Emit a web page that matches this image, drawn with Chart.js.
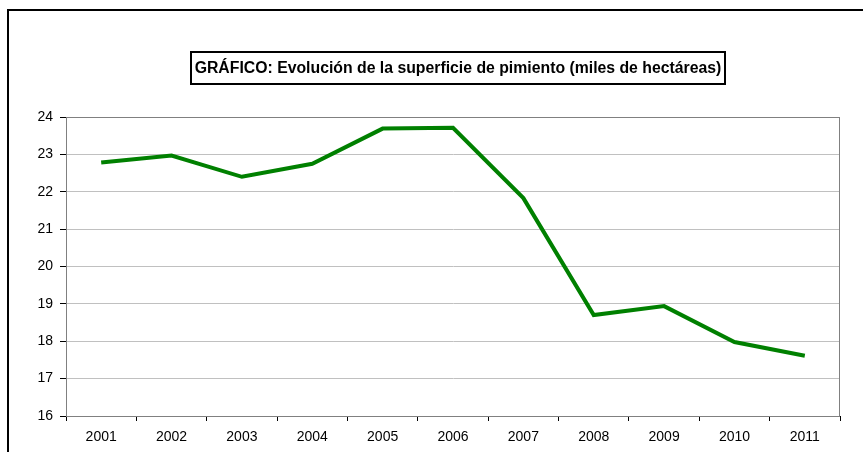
<!DOCTYPE html>
<html>
<head>
<meta charset="utf-8">
<script src="https://cdn.jsdelivr.net/npm/chart.js@4/dist/chart.umd.min.js"></script>
<style>
  html, body { margin: 0; padding: 0; background: #fff; }
  #marco { position: relative; width: 863px; height: 452px; overflow: hidden; }
  #borde { position: absolute; left: 7px; top: 9px; width: 900px; height: 500px;
           border-left: 2px solid #000; border-top: 2px solid #000; }
  #titulo { position: absolute; left: 190px; top: 51px; width: 532px; height: 30px;
            border: 2px solid #000; font: bold 15.8px "Liberation Sans", Arial, sans-serif;
            line-height: 30px; text-align: center; color: #000; white-space: nowrap; }
  canvas { position: absolute; left: 0; top: 0; }
</style>
</head>
<body>
<div id="marco">
  <canvas id="grafico" width="863" height="452"></canvas>
  <div id="borde"></div>
  <div id="titulo">GRÁFICO: Evolución de la superficie de pimiento (miles de hectáreas)</div>
</div>
<script>
// Superficie de pimiento, miles de hectáreas
var anios = ["2001", "2002", "2003", "2004", "2005", "2006", "2007", "2008", "2009", "2010", "2011"];
var superficie = [22.78, 22.97, 22.40, 22.75, 23.69, 23.71, 21.83, 18.70, 18.94, 17.98, 17.61];
var ejeY = { min: 16, max: 24, paso: 1 };

var fuente = { family: "'Liberation Sans', Arial, sans-serif", size: 14 };

// marco gris del area de trazado
var bordeArea = {
  id: "bordeArea",
  beforeDatasetsDraw: function (chart) {
    var a = chart.chartArea, ctx = chart.ctx;
    ctx.save();
    ctx.strokeStyle = "#808080";
    ctx.lineWidth = 1;
    ctx.strokeRect(a.left + 0.5, a.top + 0.5, a.right - a.left - 1, a.bottom - a.top);
    ctx.restore();
  }
};

new Chart(document.getElementById("grafico").getContext("2d"), {
  type: "line",
  data: {
    labels: anios,
    datasets: [{
      data: superficie,
      borderColor: "#008000",
      borderWidth: 4,
      pointRadius: 0,
      tension: 0,
      fill: false
    }]
  },
  options: {
    responsive: false,
    animation: false,
    layout: { padding: { left: 0, top: 117, right: 23, bottom: 0 } },
    plugins: { legend: { display: false }, tooltip: { enabled: false }, title: { display: false } },
    scales: {
      x: {
        offset: true,
        grid: { offset: true, drawOnChartArea: false, tickLength: 5, tickColor: "#000" },
        border: { color: "#000", width: 1 },
        ticks: { color: "#000", font: fuente, padding: 8, maxRotation: 0 },
        afterFit: function (s) { s.height = 36; }
      },
      y: {
        min: ejeY.min,
        max: ejeY.max,
        grid: { color: "#c0c0c0", tickColor: "#000", tickLength: 6 },
        border: { color: "#000", width: 1 },
        ticks: { stepSize: ejeY.paso, color: "#000", font: fuente, padding: 7 },
        afterFit: function (s) { s.width = 66; }
      }
    }
  },
  plugins: [bordeArea]
});
</script>
</body>
</html>
